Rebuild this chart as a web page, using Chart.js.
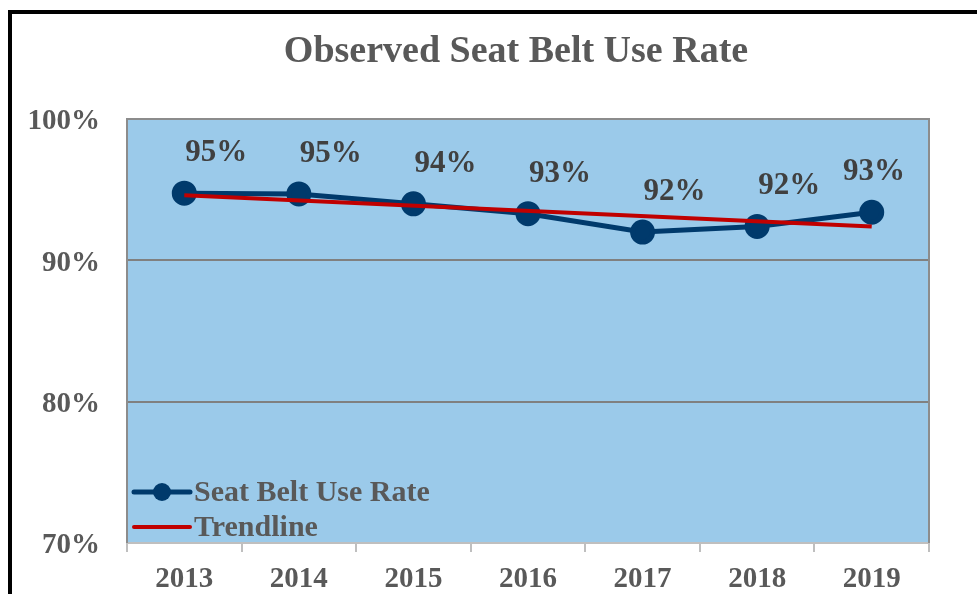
<!DOCTYPE html>
<html>
<head>
<meta charset="utf-8">
<script src="https://cdn.jsdelivr.net/npm/chart.js@4/dist/chart.umd.min.js"></script>
<style>
  html, body { margin: 0; padding: 0; background: #fff; overflow: hidden; }
  #frame { position: absolute; left: 8px; top: 10px; width: 1100px; height: 800px; border: 4px solid #000; }
  #wrap { position: absolute; left: 0; top: 0; width: 977px; height: 594px; }
</style>
</head>
<body>
<div id="frame"></div>
<div id="wrap"><canvas id="chart" width="977" height="594"></canvas></div>
<script>
const years = ["2013", "2014", "2015", "2016", "2017", "2018", "2019"];
const useRate = [94.75, 94.7, 94.0, 93.3, 92.0, 92.4, 93.4];
const trendline = [94.6, null, null, null, null, null, 92.4];
const yTicks = [70, 80, 90, 100];

const serif = "'Liberation Serif', 'Times New Roman', serif";

const plotBackground = {
  id: "plotBackground",
  beforeDraw(chart) {
    const { ctx, chartArea: a } = chart;
    ctx.save();
    ctx.fillStyle = "#9BCAEA";
    ctx.fillRect(a.left, a.top, a.right - a.left, a.bottom - a.top);
    ctx.restore();
  },
  afterDatasetsDraw(chart) {
    const { ctx, chartArea: a } = chart;
    ctx.save();
    ctx.strokeStyle = "#8c8c8c";
    ctx.lineWidth = 2;
    ctx.beginPath();
    ctx.moveTo(a.left, a.bottom);
    ctx.lineTo(a.left, a.top);
    ctx.lineTo(a.right, a.top);
    ctx.lineTo(a.right, a.bottom);
    ctx.stroke();
    ctx.restore();
  }
};

const titleAndLabels = {
  id: "titleAndLabels",
  afterDraw(chart) {
    const { ctx, chartArea: a } = chart;
    ctx.save();
    ctx.fillStyle = "#595959";
    ctx.font = "bold 38px " + serif;
    ctx.textAlign = "center";
    ctx.textBaseline = "middle";
    ctx.fillText("Observed Seat Belt Use Rate", 516, 52);

    // value labels, kept inside the plot on the right
    const meta = chart.getDatasetMeta(0);
    ctx.fillStyle = "#404040";
    ctx.font = "bold 31px " + serif;
    meta.data.forEach((pt, i) => {
      const text = Math.round(useRate[i]) + "%";
      const half = ctx.measureText(text).width / 2;
      const x = Math.min(pt.x + 32, a.right - 24 - half);
      ctx.fillText(text, x, pt.y - 40);
    });

    // legend inside plot
    const items = [
      { ds: chart.data.datasets[0], y: 492, marker: true },
      { ds: chart.data.datasets[1], y: 527, marker: false }
    ];
    items.forEach(it => {
      const x0 = a.left + 7, x1 = a.left + 63;
      ctx.strokeStyle = it.ds.borderColor;
      ctx.lineWidth = it.marker ? 5 : 4;
      ctx.lineCap = "round";
      ctx.beginPath();
      ctx.moveTo(x0, it.y);
      ctx.lineTo(x1, it.y);
      ctx.stroke();
      if (it.marker) {
        ctx.fillStyle = it.ds.pointBackgroundColor;
        ctx.beginPath();
        ctx.arc((x0 + x1) / 2, it.y, 9, 0, Math.PI * 2);
        ctx.fill();
      }
      ctx.fillStyle = "#595959";
      ctx.font = "bold 30px " + serif;
      ctx.textAlign = "left";
      ctx.fillText(it.ds.label, x1 + 4, it.y + 1);
    });
    ctx.restore();
  }
};

new Chart(document.getElementById("chart"), {
  type: "line",
  data: {
    labels: years,
    datasets: [
      {
        label: "Seat Belt Use Rate",
        data: useRate,
        borderColor: "#003A6C",
        backgroundColor: "#003A6C",
        pointBackgroundColor: "#003A6C",
        pointBorderColor: "#003A6C",
        borderWidth: 5,
        pointRadius: 10,
        tension: 0,
        order: 1
      },
      {
        label: "Trendline",
        data: trendline,
        borderColor: "#C00000",
        backgroundColor: "#C00000",
        borderWidth: 4,
        pointRadius: 0,
        spanGaps: true,
        tension: 0,
        order: 0
      }
    ]
  },
  options: {
    responsive: false,
    animation: false,
    layout: { padding: { top: 119, right: 48, left: 0, bottom: 0 } },
    plugins: {
      legend: { display: false },
      title: { display: false },
      tooltip: { enabled: false }
    },
    scales: {
      x: {
        offset: true,
        grid: {
          offset: true,
          drawOnChartArea: false,
          drawTicks: true,
          tickLength: 9,
          color: "#bfbfbf",
          lineWidth: 2
        },
        border: { color: "#bfbfbf", width: 2 },
        ticks: {
          color: "#595959",
          font: { family: serif, size: 29, weight: "bold" },
          padding: 10,
          maxRotation: 0
        },
        afterFit(scale) { scale.height = 51; }
      },
      y: {
        min: 70,
        max: 100,
        afterBuildTicks(scale) { scale.ticks = yTicks.map(v => ({ value: v })); },
        grid: {
          drawTicks: false,
          color: ctx => (ctx.tick.value === 70 || ctx.tick.value === 100) ? "rgba(0,0,0,0)" : "#808080",
          lineWidth: 2
        },
        border: { display: false },
        ticks: {
          color: "#595959",
          font: { family: serif, size: 29, weight: "bold" },
          padding: 27,
          labelOffset: 3,
          callback: v => v + "%"
        },
        afterFit(scale) { scale.width = 127; }
      }
    }
  },
  plugins: [plotBackground, titleAndLabels]
});
</script>
</body>
</html>
